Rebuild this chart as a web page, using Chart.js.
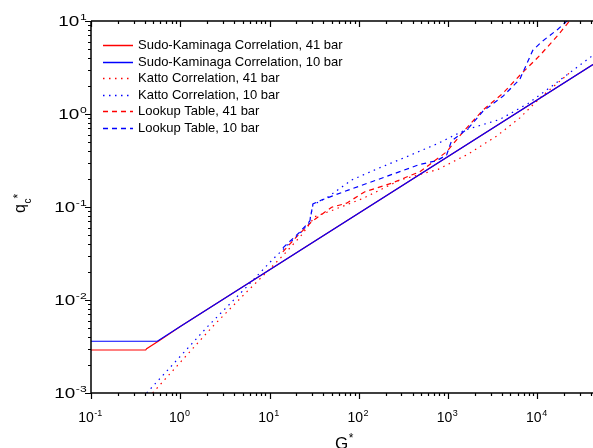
<!DOCTYPE html>
<html>
<head>
<meta charset="utf-8">
<script src="https://cdn.jsdelivr.net/npm/chart.js@4.4.0/dist/chart.umd.min.js"></script>
<style>
  html, body { margin: 0; padding: 0; background: #fff; }
</style>
</head>
<body>
<canvas id="chart" width="593" height="448"></canvas>
<script>
'use strict';

// values (G* , q_c*)
var skX41 = [0.1, 0.41, 0.42, 0.59, 1, 42000];
var skY41 = [0.0029, 0.0029, 0.003, 0.0037, 0.0052, 3.4];
var skX10 = [0.1, 0.553, 1, 42000];
var skY10 = [0.0036, 0.0036, 0.0052, 3.4];

var kattoX41 = [0.49, 2.31, 5.44, 9.67, 14.9, 22.9, 32.2, 51.7, 112, 289, 775, 1680, 3490, 6370, 10700, 23700];
var kattoY41 = [0.001, 0.0052, 0.012, 0.0207, 0.0318, 0.05, 0.0787, 0.0929, 0.124, 0.195, 0.254, 0.371, 0.578, 0.909, 1.49, 2.84];
var kattoX10 = [0.42, 2.03, 5.44, 11.0, 21.9, 27.8, 30.6, 45.4, 83.1, 165, 343, 743, 1542, 3800, 7890, 14200, 42000];
var kattoY10 = [0.001, 0.0052, 0.0136, 0.0277, 0.0522, 0.0668, 0.105, 0.129, 0.195, 0.26, 0.347, 0.475, 0.671, 0.874, 1.3, 1.96, 4.28];

var lookupX41 = [14.1, 20.1, 29.6, 49.6, 73.0, 117, 233, 390, 483, 962, 1476, 2453, 4110, 6370, 10700, 16970, 23700];
var lookupY41 = [0.0329, 0.048, 0.0695, 0.0993, 0.11, 0.146, 0.18, 0.221, 0.239, 0.392, 0.643, 1.10, 1.67, 2.61, 4.28, 7.02, 10.4];
var lookupX10 = [14.1, 21.9, 28.3, 30.6, 38.3, 76.1, 158, 254, 483, 743, 962, 1094, 1680, 2453, 4110, 6370, 8900, 11100, 16970, 21900];
var lookupY10 = [0.0363, 0.0539, 0.0707, 0.108, 0.119, 0.152, 0.195, 0.23, 0.287, 0.314, 0.362, 0.515, 0.70, 1.07, 1.55, 2.37, 4.85, 5.95, 8.15, 10.2];

var seriesNames = ['Sudo-Kaminaga Correlation, 41 bar', 'Sudo-Kaminaga Correlation, 10 bar',
  'Katto Correlation, 41 bar', 'Katto Correlation, 10 bar',
  'Lookup Table, 41 bar', 'Lookup Table, 10 bar'];

// axis range and tick decades
var xMin = 0.1, xMax = 42000;
var yMin = 0.001, yMax = 10;
var xDecades = [-1, 0, 1, 2, 3, 4];
var yDecades = [-3, -2, -1, 0, 1];

var FONT = '"Liberation Sans", Arial, sans-serif';

function toPoints(xs, ys) {
  var pts = [];
  for (var i = 0; i < xs.length; i++) {
    pts.push({x: xs[i], y: ys[i]});
  }
  return pts;
}

function makeSet(i, xs, ys, color, dash, order) {
  return {
    label: seriesNames[i],
    data: toPoints(xs, ys),
    showLine: true,
    borderColor: color,
    backgroundColor: color,
    borderWidth: 1.2,
    borderDash: dash,
    pointRadius: 0,
    tension: 0,
    order: order
  };
}

var dotted = [1.5, 4.5];
var dashed = [5, 4];

// "10" with a small raised exponent; stretch widens the y labels like the original
function drawPow(ctx, exp, x, y, align, size, stretch) {
  var sup = String(exp);
  ctx.font = size + 'px ' + FONT;
  var w1 = ctx.measureText('10').width * stretch;
  ctx.font = '9px ' + FONT;
  var w2 = ctx.measureText(sup).width * stretch;
  var start = align === 'center' ? x - (w1 + w2) / 2 : x - (w1 + w2);
  ctx.save();
  ctx.translate(start, y);
  ctx.scale(stretch, 1);
  ctx.font = size + 'px ' + FONT;
  ctx.fillText('10', 0, 0);
  ctx.font = '9px ' + FONT;
  ctx.fillText(sup, w1 / stretch + 0.5, -6);
  ctx.restore();
}

var framePlugin = {
  id: 'frame',
  afterDraw: function(chart) {
    var ctx = chart.ctx;
    var a = chart.chartArea;
    var xs = chart.scales.x;
    var ys = chart.scales.y;
    ctx.save();
    ctx.strokeStyle = '#000';
    ctx.fillStyle = '#000';
    ctx.lineWidth = 1.5;
    ctx.setLineDash([]);

    // axis lines
    ctx.beginPath();
    ctx.moveTo(a.left, a.top);
    ctx.lineTo(a.right + 1, a.top);
    ctx.moveTo(a.left, a.top);
    ctx.lineTo(a.left, a.bottom);
    ctx.lineTo(a.right + 1, a.bottom);
    ctx.stroke();

    ctx.lineWidth = 1.2;
    ctx.beginPath();
    for (var i = 0; i < xDecades.length; i++) {
      for (var m = 1; m < 10; m++) {
        var v = m * Math.pow(10, xDecades[i]);
        if (v < xMin || v > xMax) continue;
        var px = Math.round(xs.getPixelForValue(v)) + 0.5;
        var len = m === 1 ? 6 : 3;
        ctx.moveTo(px, a.bottom);
        ctx.lineTo(px, a.bottom + len);
        ctx.moveTo(px, a.top);
        ctx.lineTo(px, a.top + len);
      }
    }
    for (var j = 0; j < yDecades.length; j++) {
      for (var k = 1; k < 10; k++) {
        var w = k * Math.pow(10, yDecades[j]);
        if (w < yMin || w > yMax) continue;
        var py = Math.round(ys.getPixelForValue(w)) + 0.5;
        var l = k === 1 ? 6 : 3;
        ctx.moveTo(a.left, py);
        ctx.lineTo(a.left - l, py);
      }
    }
    ctx.stroke();

    // tick labels
    ctx.textBaseline = 'alphabetic';
    ctx.textAlign = 'left';
    for (var p = 0; p < xDecades.length; p++) {
      drawPow(ctx, xDecades[p], xs.getPixelForValue(Math.pow(10, xDecades[p])) - 1, a.bottom + 28.5, 'center', 14, 1);
    }
    for (var q = 0; q < yDecades.length; q++) {
      drawPow(ctx, yDecades[q], a.left - 5, ys.getPixelForValue(Math.pow(10, yDecades[q])) + 5, 'right', 14, 1.35);
    }

    // axis titles
    ctx.font = '17px ' + FONT;
    ctx.fillText('G', 335, 449);
    var gw = ctx.measureText('G').width;
    ctx.font = '12px ' + FONT;
    ctx.fillText('*', 335 + gw + 0.5, 442);

    ctx.save();
    ctx.translate(25, 213);
    ctx.rotate(-Math.PI / 2);
    ctx.font = '16px ' + FONT;
    ctx.fillText('q', 0, 0);
    var qw = ctx.measureText('q').width;
    ctx.font = '10px ' + FONT;
    ctx.fillText('c', qw + 0.5, 6);
    var cw = ctx.measureText('c').width;
    ctx.font = '12px ' + FONT;
    ctx.fillText('*', qw + cw + 0.5, -3);
    ctx.restore();

    // legend
    var sets = chart.data.datasets;
    ctx.font = '13px ' + FONT;
    ctx.textBaseline = 'middle';
    for (var s = 0; s < sets.length; s++) {
      var ly = Math.round(45 + s * 16.6) + 0.5;
      ctx.strokeStyle = sets[s].borderColor;
      ctx.lineWidth = 1.5;
      ctx.setLineDash(sets[s].borderDash || []);
      ctx.beginPath();
      ctx.moveTo(103, ly);
      ctx.lineTo(133, ly);
      ctx.stroke();
      ctx.fillText(sets[s].label, 138, ly);
    }
    ctx.restore();
  }
};

var ctx = document.getElementById('chart').getContext('2d');

var chart = new Chart(ctx, {
  type: 'scatter',
  data: {
    datasets: [
      makeSet(0, skX41, skY41, '#ff0000', [], 1),
      makeSet(1, skX10, skY10, '#0000ff', [], 0),
      makeSet(2, kattoX41, kattoY41, '#ff0000', dotted, 3),
      makeSet(3, kattoX10, kattoY10, '#0000ff', dotted, 2),
      makeSet(4, lookupX41, lookupY41, '#ff0000', dashed, 5),
      makeSet(5, lookupX10, lookupY10, '#0000ff', dashed, 4)
    ]
  },
  options: {
    responsive: false,
    animation: false,
    events: [],
    devicePixelRatio: 1,
    layout: { padding: { top: 21, right: 0, left: 0, bottom: 0 } },
    plugins: {
      legend: { display: false },
      tooltip: { enabled: false }
    },
    scales: {
      x: {
        type: 'logarithmic',
        min: xMin,
        max: xMax,
        grid: { display: false },
        border: { display: false },
        ticks: { display: false },
        afterFit: function(scale) { scale.height = 55; }
      },
      y: {
        type: 'logarithmic',
        min: yMin,
        max: yMax,
        grid: { display: false },
        border: { display: false },
        ticks: { display: false },
        afterFit: function(scale) { scale.width = 91; }
      }
    }
  },
  plugins: [framePlugin]
});
</script>
</body>
</html>
